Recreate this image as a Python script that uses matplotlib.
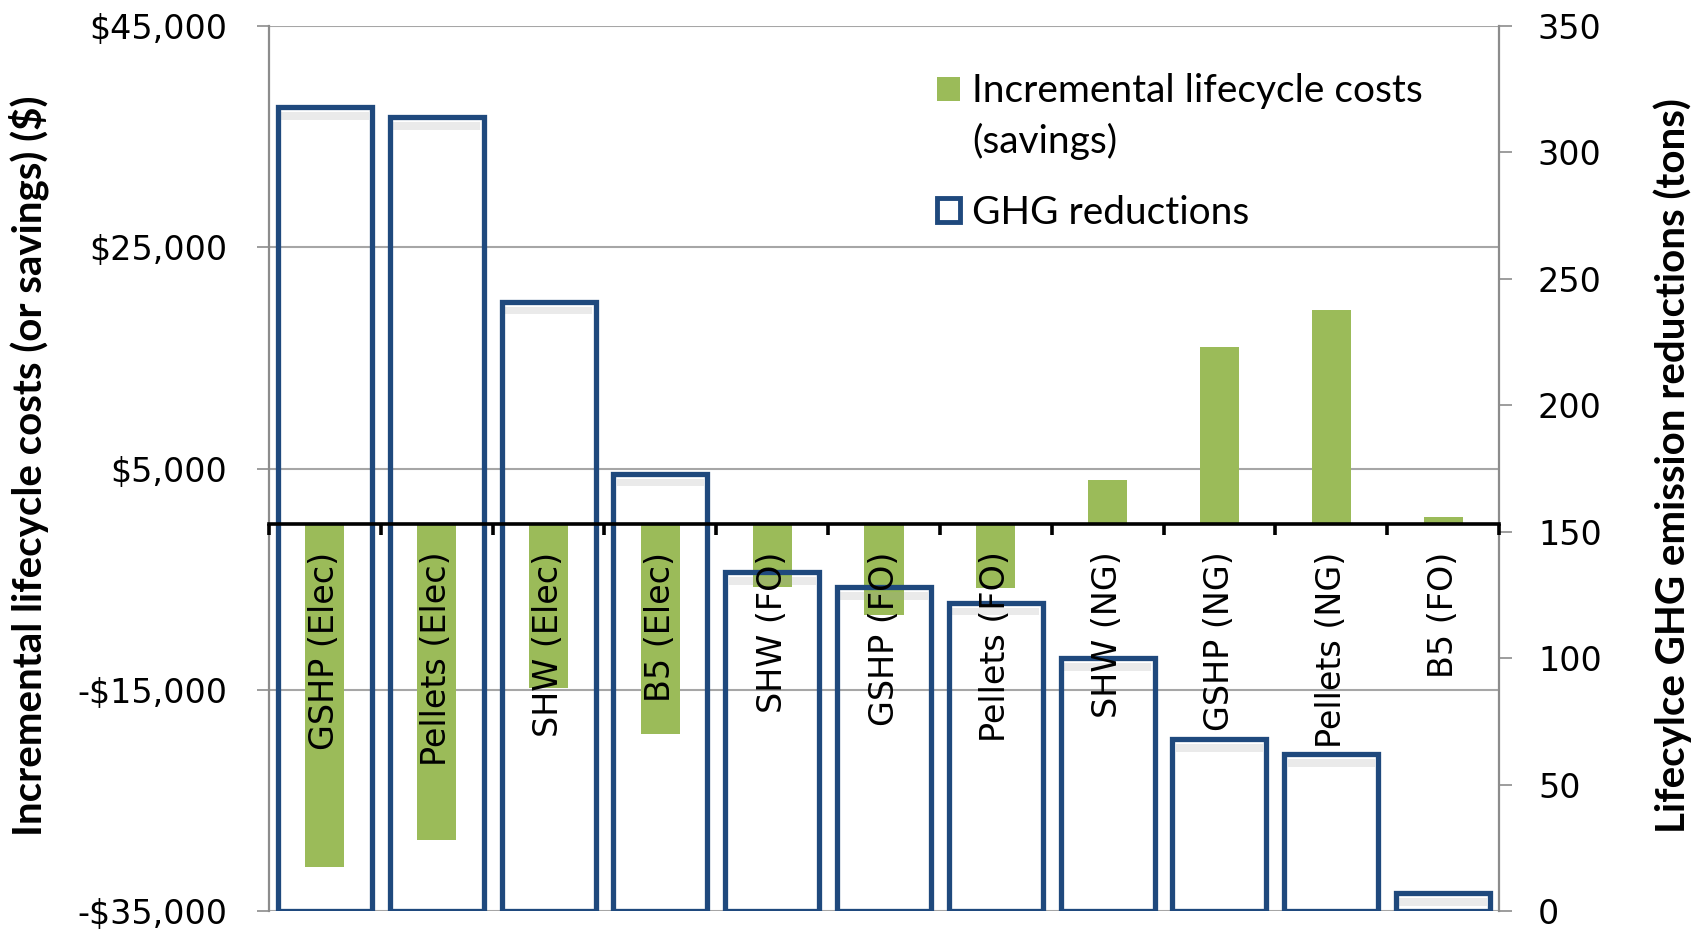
import matplotlib
matplotlib.use("Agg")
import matplotlib.pyplot as plt
from matplotlib.patches import Patch, Rectangle
from matplotlib.legend_handler import HandlerPatch
import numpy as np

# ---- data ----
categories = ["GSHP (Elec)", "Pellets (Elec)", "SHW (Elec)", "B5 (Elec)",
              "SHW (FO)", "GSHP (FO)", "Pellets (FO)",
              "SHW (NG)", "GSHP (NG)", "Pellets (NG)", "B5 (FO)"]
cost_values = [-31000, -28600, -14800, -19000, -5700, -8200, -5800,
               4000, 16000, 19300, 650]
ghg_values = [318, 314, 241, 173, 134, 128, 122, 100, 68, 62, 7]
left_ticks = [-35000, -15000, 5000, 25000, 45000]
left_tick_labels = ["-$35,000", "-$15,000", "$5,000", "$25,000", "$45,000"]
right_ticks = [0, 50, 100, 150, 200, 250, 300, 350]
right_tick_labels = ["0", "50", "100", "150", "200", "250", "300", "350"]
left_title = "Incremental lifecycle costs (or savings) ($)"
right_title = "Lifecylce GHG emission reductions (tons)"
legend_labels = ["Incremental lifecycle costs\n(savings)", "GHG reductions"]

GREEN = "#9BBB59"
BLUE = "#1F497D"
GRID = "#A6A6A6"
AXIS = "#8C8C8C"

W, H = 1707, 930
fig = plt.figure(figsize=(W / 100, H / 100), dpi=100)
L, R, T, B = 269, 1499, 26, 911
rect = [L / W, 1 - B / H, (R - L) / W, (B - T) / H]

x = np.arange(len(categories))
xlim = (-0.5, len(categories) - 0.5)

ax = fig.add_axes(rect)
ax2 = ax.twinx()

# green cost bars
ax.bar(x, cost_values, width=0.35, color=GREEN, zorder=2)
ax.set_xlim(*xlim)
ax.set_ylim(-35000, 45000)
ax.set_yticks(left_ticks)
ax.set_yticklabels(left_tick_labels)
ax.set_axisbelow(True)
ax.yaxis.grid(True, color=GRID, lw=1.5)
ax.set_xticks([])
for s in ["top", "bottom", "right"]:
    ax.spines[s].set_visible(False)
ax.spines["left"].set_color(AXIS)
ax.spines["left"].set_linewidth(1.6)
ax.tick_params(axis="y", direction="out", length=9, width=1.2, color=AXIS,
               pad=21, labelsize=24, labelcolor="black")

# GHG outline bars with a soft shadow band under the top edge
ghg = np.array(ghg_values, dtype=float)
ax2.bar(x, np.full_like(ghg, 3.0), bottom=ghg - 5.0, width=0.78,
        color="#A0A0A0", alpha=0.22, linewidth=0, zorder=2)
ax2.bar(x, ghg, width=0.84, facecolor="none", edgecolor=BLUE,
        linewidth=3.8, zorder=3)
ax2.set_ylim(0, 350)
ax2.set_yticks(right_ticks)
ax2.set_yticklabels(right_tick_labels)
for s in ["top", "bottom", "left"]:
    ax2.spines[s].set_visible(False)
ax2.spines["right"].set_color(AXIS)
ax2.spines["right"].set_linewidth(1.6)
ax2.tick_params(axis="y", direction="out", length=9, width=1.2, color=AXIS,
                pad=19, labelsize=24, labelcolor="black")

# overlay axes for the zero line, category ticks and labels
ax3 = fig.add_axes(rect)
ax3.patch.set_visible(False)
ax3.set_xlim(*xlim)
ax3.set_ylim(-35000, 45000)
for s in ["top", "left", "right"]:
    ax3.spines[s].set_visible(False)
ax3.spines["bottom"].set_position(("data", 0))
ax3.spines["bottom"].set_color("black")
ax3.spines["bottom"].set_linewidth(2.6)
ax3.set_xticks(np.arange(len(categories) + 1) - 0.5)
ax3.set_xticklabels([])
ax3.tick_params(axis="x", direction="out", length=8, width=2.6, color="black")
ax3.set_yticks([])
for xi, name in zip(x, categories):
    ax3.annotate(name, xy=(xi, 0), xytext=(0, -20), textcoords="offset points",
                 rotation=90, ha="center", va="top", fontsize=24,
                 family="DejaVu Sans", color="black")

# axis titles
title_font = ["Liberation Sans Narrow", "Lato", "DejaVu Sans"]
fig.text(29 / W, 1 - 466 / H, left_title, rotation=90, ha="center", va="center",
         fontsize=29, fontweight="bold", family=title_font)
fig.text(1673 / W, 1 - 466 / H, right_title, rotation=90, ha="center", va="center",
         fontsize=29, fontweight="bold", family=title_font)

# legend (square aligned with the first text line)
LEG_FS = 28
LINE_SP = 1.45


def top_square(legend, orig_handle, xdescent, ydescent, width, height, fontsize):
    shift = 0.5 * LINE_SP * fontsize
    return Rectangle((-xdescent, -ydescent + shift), width, height)


handles = [Patch(facecolor=GREEN, edgecolor="none"),
           Patch(facecolor="white", edgecolor=BLUE, linewidth=3.5)]
leg = fig.legend(handles, legend_labels, loc="upper left",
                 bbox_to_anchor=(937 / W, 1 - 73 / H), frameon=False,
                 prop={"family": ["Lato", "DejaVu Sans"], "size": LEG_FS},
                 handlelength=0.6, handleheight=0.6, handletextpad=0.3,
                 labelspacing=0.9, borderpad=0, borderaxespad=0,
                 handler_map={handles[0]: HandlerPatch(patch_func=top_square)})
for t in leg.get_texts():
    t.set_linespacing(LINE_SP)

fig.savefig("out.png", dpi=100)
